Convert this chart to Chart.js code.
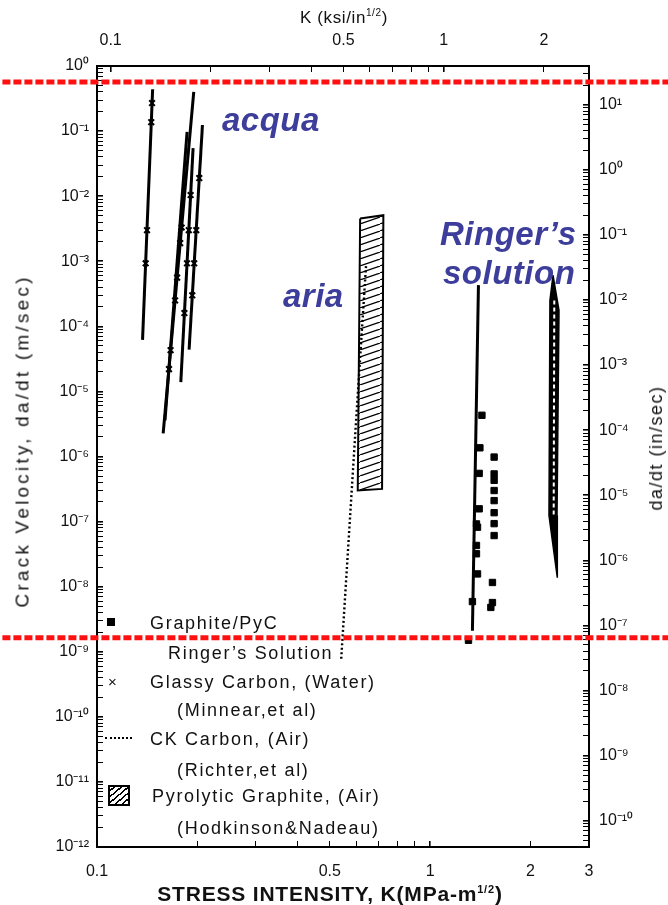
<!DOCTYPE html>
<html>
<head>
<meta charset="utf-8">
<script src="https://cdn.jsdelivr.net/npm/chart.js@4.4.1/dist/chart.umd.min.js"></script>
<style>
    html, body { margin: 0; padding: 0; background: #fff; }
    #wrap { position: relative; width: 668px; height: 905px; overflow: hidden; }
    #chart { position: absolute; left: 0; top: 0; }
    .t { position: absolute; font-family: 'Liberation Sans', Arial, sans-serif; color: #111; white-space: nowrap; line-height: 1; }
    .leg { font-size: 18px; letter-spacing: 1.7px; }
    .note { font-weight: bold; font-style: italic; font-size: 33px; color: #3d3d9b; letter-spacing: 0.5px; }
    .rot { transform: translate(-50%, -50%) rotate(-90deg); font-size: 18px; letter-spacing: 1.5px; }
    .sym { position: absolute; }
</style>
</head>
<body>
<div id="wrap">
    <canvas id="chart" width="668" height="905"></canvas>

    <div class="t" style="left:344px; top:17px; transform:translate(-50%,-50%); font-size:17px; letter-spacing:0.6px;">K (ksi/in<sup style="font-size:10px">1/2</sup>)</div>
    <div class="t rot" style="left:22px; top:441px; font-size:19px; letter-spacing:3.2px;">Crack Velocity, da/dt (m/sec)</div>
    <div class="t rot" style="left:656px; top:448px;">da/dt (in/sec)</div>
    <div class="t" style="left:330px; top:893px; transform:translate(-50%,-50%); font-size:21px; font-weight:bold; letter-spacing:0.8px;">STRESS INTENSITY, K(MPa-m<sup style="font-size:11px">1/2</sup>)</div>

    <div class="t note" style="left:222px; top:103px;">acqua</div>
    <div class="t note" style="left:283px; top:279px;">aria</div>
    <div class="t note" style="left:440px; top:217px;">Ringer’s</div>
    <div class="t note" style="left:443px; top:256px;">solution</div>

    <div class="sym" style="left:107px; top:618px; width:8px; height:8px; background:#000;"></div>
    <div class="t leg" style="left:150px; top:614px;">Graphite/PyC</div>
    <div class="t leg" style="left:168px; top:644px;">Ringer’s Solution</div>
    <div class="t" style="left:108px; top:674px; font-size:15px;">×</div>
    <div class="t leg" style="left:150px; top:673px;">Glassy Carbon, (Water)</div>
    <div class="t leg" style="left:177px; top:701px;">(Minnear,et al)</div>
    <div class="sym" style="left:105px; top:737px; width:27px; height:0; border-top:2px dotted #000;"></div>
    <div class="t leg" style="left:150px; top:730px;">CK Carbon, (Air)</div>
    <div class="t leg" style="left:177px; top:761px;">(Richter,et al)</div>
    <div class="sym" style="left:108px; top:785px; width:18px; height:17px; border:2px solid #000; background:repeating-linear-gradient(-40deg, #fff 0 3px, #000 3px 4.5px);"></div>
    <div class="t leg" style="left:152px; top:787px;">Pyrolytic Graphite, (Air)</div>
    <div class="t leg" style="left:177px; top:819px;">(Hodkinson&amp;Nadeau)</div>
</div>
<script>
// stress intensity K in MPa·m^1/2, crack velocity da/dt in m/s
const kTickLabels = [0.1, 0.5, 1, 2, 3];
const ksiTickLabels = [0.1, 0.5, 1, 2];
const KSI_TO_MPA = 1.0988;
const M_TO_IN = 39.37;

// Glassy Carbon (Water), Minnear et al - solid lines, one pair of ends per run
const glassyLineK = [[0.1469, 0.1370], [0.1952, 0.1580], [0.1864, 0.1600], [0.1943, 0.1785], [0.2073, 0.1890]];
const glassyLineV = [[0.44, 6.2e-5], [0.40, 2.26e-6], [0.0975, 3.6e-6], [0.0547, 1.39e-5], [0.124, 4.4e-5]];
const glassyMarkK = [0.1463, 0.1455, 0.1413, 0.1400, 0.2028, 0.1986, 0.1958, 0.1932, 0.1910, 0.1886, 0.1863, 0.1830,
    0.1795, 0.1777, 0.1740, 0.1716, 0.1663, 0.1645];
const glassyMarkV = [0.27, 0.137, 3.0e-3, 9.3e-4, 1.9e-2, 3.0e-3, 9.3e-4, 3.0e-4, 1.04e-2, 3.0e-3, 9.3e-4, 1.6e-4,
    3.3e-3, 1.9e-3, 5.6e-4, 2.5e-4, 4.3e-5, 2.2e-5];

// CK Carbon (Air), Richter et al - dotted
const ckK = [0.541, 0.597, 0.643];
const ckV = [7.8e-10, 2.5e-6, 9.3e-4];

// Pyrolytic Graphite (Air), Hodkinson & Nadeau - hatched box
const pyroK = [0.6166, 0.7240, 0.7176, 0.6065, 0.6166];
const pyroV = [4.54e-3, 5.1e-3, 3.18e-7, 3.0e-7, 4.54e-3];

// Graphite/PyC in Ringer's solution
const ringerLineK = [1.397, 1.340];
const ringerLineV = [4.3e-4, 2.1e-9];
const ringerSqK = [1.431, 1.411, 1.404, 1.404, 1.378, 1.388, 1.378, 1.378, 1.388, 1.340, 1.304,
    1.557, 1.557, 1.557, 1.557, 1.557, 1.557, 1.557, 1.557, 1.539, 1.539, 1.522];
const ringerSqV = [4.3e-6, 1.36e-6, 5.5e-7, 1.57e-7, 9.2e-8, 8.2e-8, 4.3e-8, 3.2e-8, 1.57e-8, 5.9e-9, 1.5e-9,
    9.8e-7, 5.4e-7, 4.3e-7, 3.0e-7, 2.1e-7, 1.37e-7, 9.3e-8, 6.1e-8, 1.16e-8, 5.7e-9, 4.8e-9];
const spindleK = [2.339, 2.438, 2.405, 2.410, 2.275, 2.290, 2.339];
const spindleV = [6.1e-4, 1.76e-4, 1.24e-7, 1.37e-8, 1.24e-7, 2.5e-4, 6.1e-4];
const spindleMidK = [2.36, 2.35];
const spindleMidV = [2.5e-4, 1.2e-7];

// red dotted marker lines laid over the figure
const redK = [0.052, 5.2];
const redTopV = [0.567, 0.567];
const redBottomV = [1.64e-9, 1.64e-9];

const pts = (xs, ys) => xs.map((x, i) => ({ x, y: ys[i] }));
const SUP = { '-': '⁻', '0': '⁰', '1': '¹', '2': '²', '3': '³', '4': '⁴', '5': '⁵', '6': '⁶', '7': '⁷', '8': '⁸', '9': '⁹' };
const pow10Label = v => {
    const e = Math.log10(v);
    if (Math.abs(e - Math.round(e)) > 1e-6) return '';
    return '10' + String(Math.round(e)).split('').map(c => SUP[c]).join('');
};
function logTicks(min, max) {
    const ticks = [];
    for (let e = Math.floor(Math.log10(min)); e <= Math.ceil(Math.log10(max)); e++) {
        for (let m = 1; m < 10; m++) {
            const v = +(m * Math.pow(10, e)).toPrecision(4);
            if (v >= min * 0.999 && v <= max * 1.001) ticks.push({ value: v });
        }
    }
    return ticks;
}

const hatch = (function () {
    const c = document.createElement('canvas');
    c.width = 20; c.height = 7;
    const p = c.getContext('2d');
    p.fillStyle = '#fff';
    p.fillRect(0, 0, 20, 7);
    p.strokeStyle = '#000';
    p.lineWidth = 1.2;
    p.beginPath();
    p.moveTo(0, 7); p.lineTo(20, 0);
    p.moveTo(-20, 7); p.lineTo(0, 0);
    p.moveTo(20, 7); p.lineTo(40, 0);
    p.stroke();
    return p.createPattern(c, 'repeat');
})();

const datasets = [
    { data: pts(redK, redTopV), showLine: true, borderColor: '#ff1010', borderWidth: 5, borderDash: [8, 3], pointRadius: 0, clip: false },
    { data: pts(redK, redBottomV), showLine: true, borderColor: '#ff1010', borderWidth: 5, borderDash: [8, 3], pointRadius: 0, clip: false },
    { data: pts(glassyMarkK, glassyMarkV), pointStyle: 'crossRot', pointRadius: 4, borderColor: '#000', borderWidth: 2, backgroundColor: '#000' },
    { data: pts(ringerSqK, ringerSqV), pointStyle: 'rect', pointRadius: 4.5, borderColor: '#000', backgroundColor: '#000' },
    { data: pts(spindleMidK, spindleMidV), showLine: true, borderColor: '#fff', borderWidth: 2, borderDash: [4, 3], pointRadius: 0 },
    { data: pts(spindleK, spindleV), showLine: true, borderColor: '#000', borderWidth: 1.5, backgroundColor: '#000', fill: 'shape', pointRadius: 0 },
    { data: pts(ringerLineK, ringerLineV), showLine: true, borderColor: '#000', borderWidth: 3, pointRadius: 0 },
    { data: pts(ckK, ckV), showLine: true, borderColor: '#000', borderWidth: 2.4, borderDash: [2, 2.5], pointRadius: 0 },
    { data: pts(pyroK, pyroV), showLine: true, borderColor: '#000', borderWidth: 2, backgroundColor: hatch, fill: 'shape', pointRadius: 0 }
];
glassyLineK.forEach((ks, i) => {
    datasets.push({ data: pts(ks, glassyLineV[i]), showLine: true, borderColor: '#000', borderWidth: 3, pointRadius: 0 });
});

// ticks point inward, as in the scanned figure; decades a little heavier
const axisGrid = {
    drawOnChartArea: false, drawTicks: true, tickLength: -6, color: '#000',
    lineWidth: ctx => (ctx.tick && pow10Label(ctx.tick.value) ? 1.6 : 1)
};
const axisBorder = { display: true, color: '#000', width: 2 };
const tickFont = { family: 'Liberation Sans', size: 16 };

Chart.defaults.font.family = 'Liberation Sans';
Chart.defaults.color = '#111';

new Chart(document.getElementById('chart'), {
    type: 'scatter',
    data: { datasets },
    options: {
        responsive: false,
        animation: false,
        devicePixelRatio: 1,
        layout: { padding: 0 },
        plugins: { legend: { display: false }, tooltip: { enabled: false } },
        scales: {
            x: {
                type: 'logarithmic', position: 'bottom', min: 0.1, max: 3,
                afterBuildTicks: s => { s.ticks = logTicks(0.1, 3); },
                afterFit: s => { s.height = 58; },
                ticks: { autoSkip: false, maxRotation: 0, padding: 21, font: tickFont, color: '#111',
                    callback: v => kTickLabels.includes(v) ? String(v) : '' },
                grid: axisGrid, border: axisBorder
            },
            xTop: {
                type: 'logarithmic', position: 'top', min: 0.1 / KSI_TO_MPA, max: 3 / KSI_TO_MPA,
                afterBuildTicks: s => { s.ticks = logTicks(0.1 / KSI_TO_MPA, 3 / KSI_TO_MPA); },
                afterFit: s => { s.height = 66; },
                ticks: { autoSkip: false, maxRotation: 0, padding: 22, font: tickFont, color: '#111',
                    callback: v => ksiTickLabels.includes(v) ? String(v) : '' },
                grid: axisGrid, border: axisBorder
            },
            y: {
                type: 'logarithmic', position: 'left', min: 1e-12, max: 1,
                afterBuildTicks: s => { s.ticks = logTicks(1e-12, 1); },
                afterFit: s => { s.width = 97; },
                ticks: { autoSkip: false, padding: 14, font: tickFont, color: '#111', callback: v => pow10Label(v) },
                grid: axisGrid, border: axisBorder
            },
            yRight: {
                type: 'logarithmic', position: 'right', min: 1e-12 * M_TO_IN, max: M_TO_IN,
                afterBuildTicks: s => { s.ticks = logTicks(1e-12 * M_TO_IN, M_TO_IN); },
                afterFit: s => { s.width = 79; },
                ticks: { autoSkip: false, padding: 16, font: tickFont, color: '#111', callback: v => pow10Label(v) },
                grid: axisGrid, border: axisBorder
            }
        }
    }
});
</script>
</body>
</html>
